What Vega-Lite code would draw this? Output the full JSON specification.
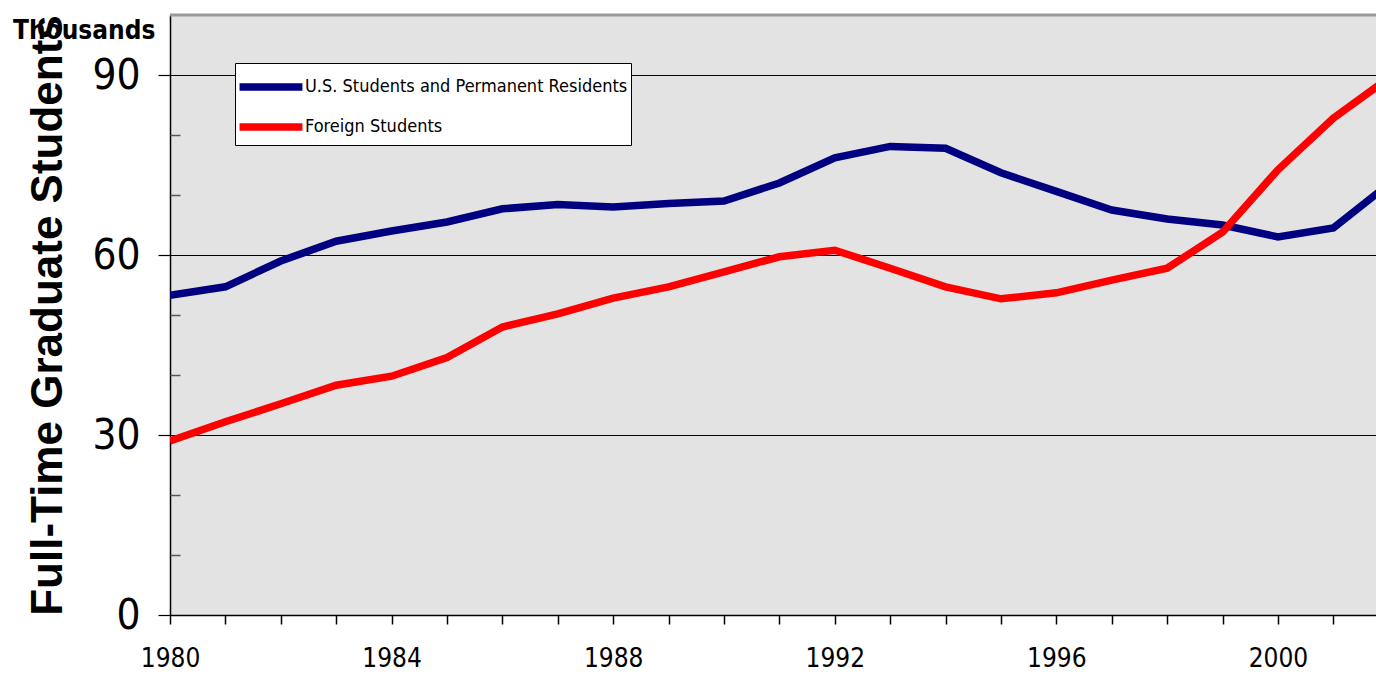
{
  "$schema": "https://vega.github.io/schema/vega-lite/v6.json",
  "width": 1206,
  "height": 600,
  "autosize": {"type": "none"},
  "padding": {"left": 170, "top": 15, "right": 0, "bottom": 60},
  "background": "white",
  "title": {
    "text": "Thousands",
    "anchor": "start",
    "frame": "group",
    "dx": -157,
    "offset": -51,
    "baseline": "alphabetic",
    "font": "DejaVu Sans Condensed, Roboto",
    "fontSize": 26,
    "fontWeight": "bold",
    "color": "black"
  },
  "config": {
    "view": {"fill": "#e3e3e3", "stroke": null},
    "axis": {
      "labelColor": "black",
      "tickColor": "black",
      "domainColor": "black",
      "labelFont": "DejaVu Sans Condensed, Roboto",
      "titleColor": "black"
    },
    "legend": {
      "orient": "none",
      "legendX": 65,
      "legendY": 48,
      "fillColor": "white",
      "strokeColor": "black",
      "padding": 3,
      "labelFont": "DejaVu Sans Condensed, Roboto",
      "labelFontSize": 18,
      "labelColor": "black",
      "labelLimit": 0,
      "symbolType": "M-1.85,0H1.85",
      "symbolSize": 1156,
      "symbolStrokeWidth": 7.5,
      "symbolOffset": 12,
      "labelOffset": 13,
      "rowPadding": 4,
      "title": null
    }
  },
  "data": {
    "values": [
      {"year": 1980, "series": "U.S. Students and Permanent Residents", "value": 53.3},
      {"year": 1981, "series": "U.S. Students and Permanent Residents", "value": 54.7},
      {"year": 1982, "series": "U.S. Students and Permanent Residents", "value": 59.0},
      {"year": 1983, "series": "U.S. Students and Permanent Residents", "value": 62.3},
      {"year": 1984, "series": "U.S. Students and Permanent Residents", "value": 64.0},
      {"year": 1985, "series": "U.S. Students and Permanent Residents", "value": 65.5},
      {"year": 1986, "series": "U.S. Students and Permanent Residents", "value": 67.7},
      {"year": 1987, "series": "U.S. Students and Permanent Residents", "value": 68.4},
      {"year": 1988, "series": "U.S. Students and Permanent Residents", "value": 68.0},
      {"year": 1989, "series": "U.S. Students and Permanent Residents", "value": 68.6},
      {"year": 1990, "series": "U.S. Students and Permanent Residents", "value": 69.0},
      {"year": 1991, "series": "U.S. Students and Permanent Residents", "value": 72.0},
      {"year": 1992, "series": "U.S. Students and Permanent Residents", "value": 76.2},
      {"year": 1993, "series": "U.S. Students and Permanent Residents", "value": 78.1},
      {"year": 1994, "series": "U.S. Students and Permanent Residents", "value": 77.8},
      {"year": 1995, "series": "U.S. Students and Permanent Residents", "value": 73.7},
      {"year": 1996, "series": "U.S. Students and Permanent Residents", "value": 70.6},
      {"year": 1997, "series": "U.S. Students and Permanent Residents", "value": 67.5},
      {"year": 1998, "series": "U.S. Students and Permanent Residents", "value": 66.0},
      {"year": 1999, "series": "U.S. Students and Permanent Residents", "value": 65.0},
      {"year": 2000, "series": "U.S. Students and Permanent Residents", "value": 63.0},
      {"year": 2001, "series": "U.S. Students and Permanent Residents", "value": 64.5},
      {"year": 2002, "series": "U.S. Students and Permanent Residents", "value": 71.8},
      {"year": 1980, "series": "Foreign Students", "value": 29.0},
      {"year": 1981, "series": "Foreign Students", "value": 32.2},
      {"year": 1982, "series": "Foreign Students", "value": 35.2},
      {"year": 1983, "series": "Foreign Students", "value": 38.3},
      {"year": 1984, "series": "Foreign Students", "value": 39.8},
      {"year": 1985, "series": "Foreign Students", "value": 42.9},
      {"year": 1986, "series": "Foreign Students", "value": 48.0},
      {"year": 1987, "series": "Foreign Students", "value": 50.2},
      {"year": 1988, "series": "Foreign Students", "value": 52.8},
      {"year": 1989, "series": "Foreign Students", "value": 54.7},
      {"year": 1990, "series": "Foreign Students", "value": 57.2},
      {"year": 1991, "series": "Foreign Students", "value": 59.7},
      {"year": 1992, "series": "Foreign Students", "value": 60.8},
      {"year": 1993, "series": "Foreign Students", "value": 57.8},
      {"year": 1994, "series": "Foreign Students", "value": 54.7},
      {"year": 1995, "series": "Foreign Students", "value": 52.7},
      {"year": 1996, "series": "Foreign Students", "value": 53.7},
      {"year": 1997, "series": "Foreign Students", "value": 55.8},
      {"year": 1998, "series": "Foreign Students", "value": 57.8},
      {"year": 1999, "series": "Foreign Students", "value": 63.8},
      {"year": 2000, "series": "Foreign Students", "value": 74.2},
      {"year": 2001, "series": "Foreign Students", "value": 82.8},
      {"year": 2002, "series": "Foreign Students", "value": 89.5}
    ]
  },
  "layer": [
    {
      "mark": {"type": "line", "strokeWidth": 7.5, "clip": true, "strokeJoin": "miter"},
      "encoding": {
        "x": {
          "field": "year",
          "type": "quantitative",
          "scale": {"domain": [1980, 2001.77], "nice": false, "zero": false},
          "axis": {
            "title": null,
            "values": [1980, 1981, 1982, 1983, 1984, 1985, 1986, 1987, 1988, 1989, 1990, 1991, 1992, 1993, 1994, 1995, 1996, 1997, 1998, 1999, 2000, 2001],
            "format": "d",
            "labelExpr": "datum.value % 4 === 0 ? datum.label : ''",
            "labelFontSize": 26,
            "labelPadding": 21,
            "tickSize": 9,
            "tickWidth": 1.5,
            "domainWidth": 1.5,
            "grid": false,
            "labelFlush": false,
            "labelOverlap": false
          }
        },
        "y": {
          "field": "value",
          "type": "quantitative",
          "scale": {"domain": [0, 100], "nice": false},
          "axis": {
            "title": "Full-Time Graduate Students",
            "titleFont": "Liberation Sans",
            "titleFontSize": 44,
            "titleFontWeight": "bold",
            "titlePadding": 21,
            "values": [0, 30, 60, 90],
            "labelFontSize": 42,
            "labelPadding": 18,
            "tickSize": 12,
            "tickWidth": 1.2,
            "domainWidth": 1.5,
            "grid": true,
            "gridColor": "black",
            "gridWidth": 1,
            "gridOpacity": 1
          }
        },
        "color": {
          "field": "series",
          "type": "nominal",
          "sort": ["U.S. Students and Permanent Residents", "Foreign Students"],
          "scale": {"domain": ["U.S. Students and Permanent Residents", "Foreign Students"], "range": ["#000080", "#ff0000"]},
          "legend": {}
        }
      }
    },
    {
      "data": {"values": [{"top": 100}]},
      "mark": {"type": "rule", "color": "#999999", "strokeWidth": 3},
      "encoding": {
        "y": {
          "field": "top",
          "type": "quantitative",
          "axis": {
            "orient": "left",
            "title": null,
            "values": [10, 20, 40, 50, 70, 80],
            "labels": false,
            "domain": false,
            "grid": false,
            "tickSize": -10,
            "tickColor": "#555555",
            "tickWidth": 1.5
          }
        }
      }
    }
  ],
  "resolve": {"axis": {"y": "independent"}}
}
